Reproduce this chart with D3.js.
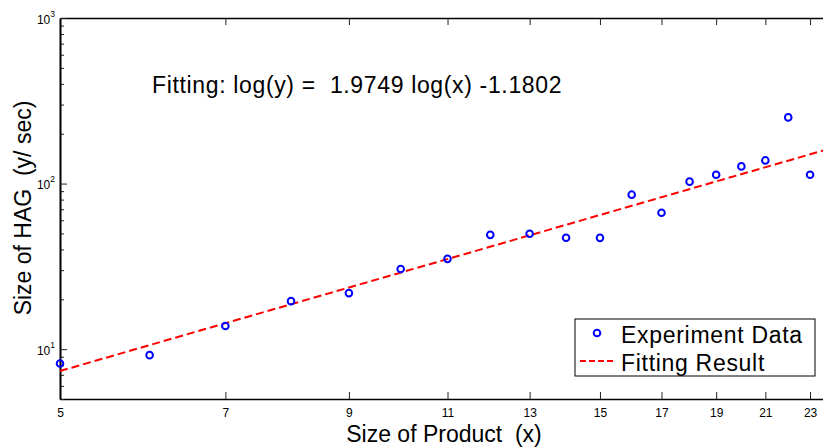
<!DOCTYPE html>
<html>
<head>
<meta charset="utf-8">
<script src="https://cdn.jsdelivr.net/npm/d3@7"></script>
<style>
  body { margin: 0; background: #fff; }
  text { font-family: "Liberation Sans", Arial, sans-serif; fill: #000; white-space: pre; }
</style>
</head>
<body>
<div id="chart"></div>
<script>
var sizes = [5, 6, 7, 8, 9, 10, 11, 12, 13, 14, 15, 16, 17, 18, 19, 20, 21, 22, 23];
var hag = [8.2, 9.2, 13.8, 19.5, 21.8, 30.5, 35.1, 49, 49.8, 47.1, 47, 85.7, 66.7, 102.7, 113, 127, 138, 251, 113];

// fitted line end points
var fitX = [5, 24];
var fitY = [7.38, 163.4];

var xTicks = [5, 7, 9, 11, 13, 15, 17, 19, 21, 23];
var yMajor = [10, 100, 1000];
var yMinor = [5, 6, 7, 8, 9, 20, 30, 40, 50, 60, 70, 80, 90, 200, 300, 400, 500, 600, 700, 800, 900];

var fitLabel = "Fitting: log(y) =  1.9749 log(x) -1.1802";
var legendLabels = ["Experiment Data", "Fitting Result"];

var width = 823, height = 448;
var margin = { top: 18, left: 60, bottom: 49 };
var plotBottom = height - margin.bottom;

var xScale = d3.scaleLog().domain([5, 24]).range([margin.left, margin.left + 491.5 * Math.log(24 / 5)]);
var yScale = d3.scaleLog().domain([5, 1000]).range([plotBottom, margin.top]);

var svg = d3.select("#chart")
  .append("svg")
  .attr("width", width)
  .attr("height", height);

svg.append("rect").attr("width", width).attr("height", height).attr("fill", "#fff");

// bottom axis
var xAxis = svg.append("g")
  .attr("transform", "translate(0," + plotBottom + ")")
  .call(d3.axisBottom(xScale).tickValues(xTicks).tickSize(-7).tickSizeOuter(0)
    .tickPadding(9).tickFormat(d3.format("d")));
xAxis.selectAll("text").style("font-size", "12px");

// top axis, ticks only
svg.append("g")
  .attr("transform", "translate(0," + margin.top + ")")
  .call(d3.axisTop(xScale).tickValues(xTicks).tickSize(-7).tickSizeOuter(0).tickFormat(""));

// left axis, minor ticks
svg.append("g")
  .attr("transform", "translate(" + margin.left + ",0)")
  .call(d3.axisLeft(yScale).tickValues(yMinor).tickSize(-4).tickSizeOuter(0).tickFormat(""));

// left axis, major ticks with 10^n labels
var yAxis = svg.append("g")
  .attr("transform", "translate(" + margin.left + ",0)")
  .call(d3.axisLeft(yScale).tickValues(yMajor).tickSize(-7).tickSizeOuter(0)
    .tickPadding(5).tickFormat(""));
yAxis.selectAll(".tick text")
  .attr("dy", "0.45em")
  .style("font-size", "12px")
  .each(function (d) {
    var t = d3.select(this);
    t.append("tspan").text("10");
    t.append("tspan").attr("dy", -7).style("font-size", "8.5px").text(Math.round(Math.log10(d)));
  });

svg.selectAll(".domain").attr("stroke", "#000").attr("stroke-width", 1.6);
svg.selectAll(".tick line").attr("stroke", "#222");

// fitted line
var line = d3.line()
  .x((d, i) => xScale(fitX[i]))
  .y((d) => yScale(d));

svg.append("path")
  .datum(fitY)
  .attr("fill", "none")
  .attr("stroke", "#ff0000")
  .attr("stroke-width", 2)
  .attr("stroke-dasharray", "8,4")
  .attr("d", line);

// experiment points
svg.selectAll(".pt")
  .data(sizes)
  .enter()
  .append("circle")
  .attr("class", "pt")
  .attr("cx", (d) => xScale(d))
  .attr("cy", (d, i) => yScale(hag[i]))
  .attr("r", 3.3)
  .attr("fill", "none")
  .attr("stroke", "#0000ff")
  .attr("stroke-width", 2);

// annotation
svg.append("text")
  .attr("x", 152)
  .attr("y", 93)
  .style("font-size", "23px")
  .style("letter-spacing", "0.65px")
  .text(fitLabel);

// axis labels
svg.append("text")
  .attr("x", 444)
  .attr("y", 442)
  .attr("text-anchor", "middle")
  .style("font-size", "23px")
  .text("Size of Product  (x)");

svg.append("text")
  .attr("transform", "translate(31,208) rotate(-90)")
  .attr("text-anchor", "middle")
  .style("font-size", "23px")
  .text("Size of HAG  (y/ sec)");

// legend
var legend = svg.append("g");
legend.append("rect")
  .attr("x", 575).attr("y", 319)
  .attr("width", 240).attr("height", 57)
  .attr("fill", "#fff")
  .attr("stroke", "#000")
  .attr("stroke-width", 1);
legend.append("circle")
  .attr("cx", 597).attr("cy", 333).attr("r", 3.3)
  .attr("fill", "none").attr("stroke", "#0000ff").attr("stroke-width", 2);
legend.append("line")
  .attr("x1", 580).attr("x2", 615).attr("y1", 361).attr("y2", 361)
  .attr("stroke", "#ff0000").attr("stroke-width", 2).attr("stroke-dasharray", "6,3");
legend.selectAll(".lab")
  .data(legendLabels)
  .enter()
  .append("text")
  .attr("x", 621)
  .attr("y", (d, i) => 343 + i * 28)
  .style("font-size", "23px")
  .style("letter-spacing", "0.7px")
  .text((d) => d);
</script>
</body>
</html>
